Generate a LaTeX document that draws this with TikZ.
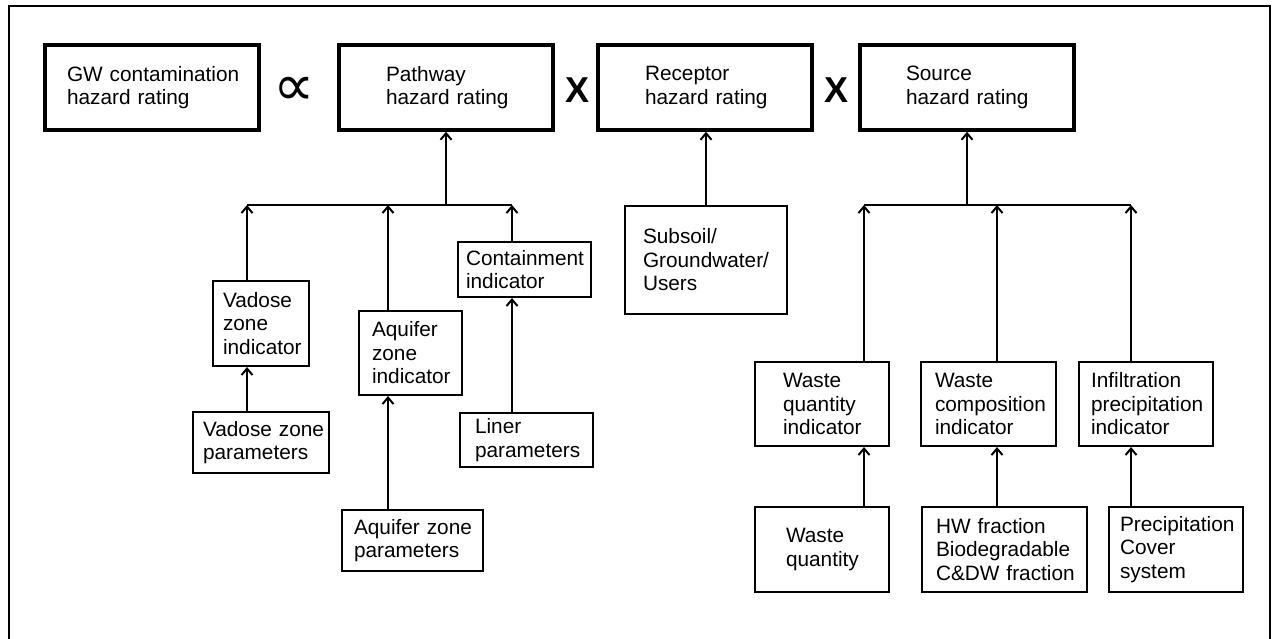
\documentclass[tikz,border=0pt]{standalone}
\usepackage{fontspec}
\setmainfont{Liberation Sans}
\newfontfamily\dejavu{DejaVu Sans}
\usetikzlibrary{arrows.meta}
\hyphenpenalty=10000
\exhyphenpenalty=10000
\tikzset{
  base/.style={draw, align=left, font=\fontsize{20.8}{23.5}\selectfont, inner ysep=0pt},
  bigbox/.style={base, line width=3.5pt},
  smallbox/.style={base, line width=2pt},
  arr/.style={line width=2pt, -{Straight Barb[length=6.5pt,width=11pt]}},
  wire/.style={line width=2pt},
  opsym/.style={inner sep=0pt, font=\fontsize{36}{38}\selectfont\bfseries},
}
\begin{document}
\begin{tikzpicture}[x=1pt, y=-1pt]
\useasboundingbox (0,0) rectangle (1273,638);
\fill[white] (0,0) rectangle (1273,638);
\clip (0,0) rectangle (1273,638);
\draw[line width=2.5pt, line join=miter] (9,660) -- (9,6) -- (1270,6) -- (1270,660);

% top row
\node[bigbox, minimum width=214pt, minimum height=85pt, text width=170pt, inner xsep=22pt] (gw) at (152,87.5) {GW~contamination\\hazard~rating};
\node[bigbox, minimum width=214pt, minimum height=85pt, text width=120pt, inner xsep=47pt] (path) at (446,87.5) {Pathway\\hazard~rating};
\node[bigbox, minimum width=214pt, minimum height=85pt, text width=120pt, inner xsep=47pt] (rec) at (705,87.5) {Receptor\\hazard~rating};
\node[bigbox, minimum width=214pt, minimum height=85pt, text width=122pt, inner xsep=46pt] (src) at (967,87.5) {Source\\hazard~rating};

\node[inner sep=0pt, font=\fontsize{58}{60}\selectfont\dejavu] (prop) at (294.5,91) {∝};
\node[opsym] (x1) at (577.5,90) {X};
\node[opsym] (x2) at (836,90) {X};

% pathway branch
\coordinate (pb) at (446,205);
\coordinate (p1) at (247,205);
\coordinate (p2) at (388,205);
\coordinate (p3) at (512,205);
\draw[wire] (p1) -- (p3);
\draw[arr] (pb) -- (path.south);

\node[smallbox, minimum width=96pt, minimum height=85pt, text width=76pt, inner xsep=10pt] (vzi) at (261,323.5) {Vadose\\zone\\indicator};
\node[smallbox, minimum width=103pt, minimum height=84pt, text width=77pt, inner xsep=13pt] (azi) at (410.5,353) {Aquifer\\zone\\indicator};
\node[smallbox, minimum width=133pt, minimum height=55pt, text width=117pt, inner xsep=8pt] (cti) at (524.5,269.5) {Containment\\indicator};
\node[smallbox, minimum width=136pt, minimum height=61pt, text width=116pt, inner xsep=10pt] (vzp) at (261,442.5) {Vadose~zone\\parameters};
\node[smallbox, minimum width=133pt, minimum height=54pt, text width=103pt, inner xsep=15pt] (lnp) at (526.5,440) {Liner\\parameters};
\node[smallbox, minimum width=141pt, minimum height=61pt, text width=117pt, inner xsep=12pt] (azp) at (412.5,540.5) {Aquifer~zone\\parameters};

\draw[arr] (vzi.north -| p1) -- (p1);
\draw[arr] (azi.north -| p2) -- (p2);
\draw[arr] (cti.north -| p3) -- (p3);
\draw[arr] (vzp.north -| p1) -- (vzi.south -| p1);
\draw[arr] (azp.north -| p2) -- (azi.south -| p2);
\draw[arr] (lnp.north -| p3) -- (cti.south -| p3);

% receptor branch
\node[smallbox, minimum width=162pt, minimum height=108pt, text width=126pt, inner xsep=18pt] (sub) at (706,260) {Subsoil/\\Groundwater/\\Users};
\draw[arr] (sub.north) -- (sub.north |- rec.south);

% source branch
\coordinate (sb) at (967,205);
\coordinate (s1) at (864,205);
\coordinate (s2) at (997,205);
\coordinate (s3) at (1131,205);
\draw[wire] (s1) -- (s3);
\draw[arr] (sb) -- (src.south);

\node[smallbox, minimum width=134pt, minimum height=84pt, text width=78pt, inner xsep=28pt] (wqi) at (822,404) {Waste\\quantity\\indicator};
\node[smallbox, minimum width=135pt, minimum height=84pt, text width=107pt, inner xsep=14pt] (wci) at (988.5,404) {Waste\\composition\\indicator};
\node[smallbox, minimum width=134pt, minimum height=84pt, text width=110pt, inner xsep=12pt] (ipi) at (1146,404) {Infiltration\\precipitation\\indicator};
\node[smallbox, minimum width=134pt, minimum height=85pt, text width=72pt, inner xsep=31pt] (wq) at (822,549.5) {Waste\\quantity};
\node[smallbox, minimum width=165pt, minimum height=85pt, text width=137pt, inner xsep=14pt] (hw) at (1004.5,549.5) {HW~fraction\\Biodegradable\\C\&DW~fraction};
\node[smallbox, minimum width=134pt, minimum height=85pt, text width=112pt, inner xsep=11pt] (pc) at (1176,549.5) {Precipitation\\Cover\\system};

\draw[arr] (wqi.north -| s1) -- (s1);
\draw[arr] (wci.north -| s2) -- (s2);
\draw[arr] (ipi.north -| s3) -- (s3);
\draw[arr] (wq.north -| s1) -- (wqi.south -| s1);
\draw[arr] (hw.north -| s2) -- (wci.south -| s2);
\draw[arr] (pc.north -| s3) -- (ipi.south -| s3);
\end{tikzpicture}
\end{document}
